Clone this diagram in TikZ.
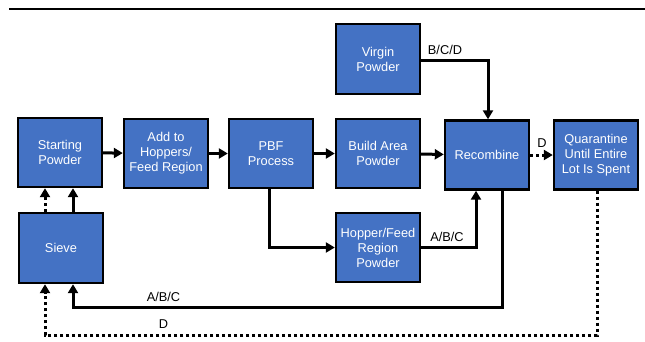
\documentclass[tikz,border=0pt]{standalone}
\usepackage{fontspec}
\setmainfont{Liberation Sans}
\usetikzlibrary{arrows.meta}
\definecolor{boxblue}{HTML}{4472C4}
\begin{document}
\begin{tikzpicture}[x=1pt,y=-1pt,
  box/.style={draw=black,line width=2.4pt,fill=boxblue,text=white,minimum width=84pt,minimum height=69pt,inner sep=1pt,align=center,font=\fontsize{12.8}{15}\selectfont},
  lbl/.style={text=black,font=\fontsize{12.8}{15}\selectfont,inner sep=0pt},
  conn/.style={line width=3pt,-{Triangle[length=9pt,width=10pt]}},
  dotconn/.style={conn,dash pattern=on 3pt off 3pt},
  plain/.style={line width=3pt}]
\useasboundingbox (0,0) rectangle (645,341);
\draw[line width=2.6pt] (9,9) -- (645,9);
\node[box] (start) at (60,152.5) {Starting\\Powder};
\node[box] (add) at (166,153.5) {Add to\\Hoppers/\\Feed Region};
\node[box] (pbf) at (271,153.5) {PBF\\Process};
\node[box] (build) at (378,153.5) {Build Area\\Powder};
\node[box] (recomb) at (487,155) {Recombine};
\node[box] (quar) at (596,155) {Quarantine\\Until Entire\\Lot Is Spent};
\node[box,minimum height=70pt] (virgin) at (378,59) {Virgin\\Powder};
\node[box] (hopper) at (378,247.5) {Hopper/Feed\\Region\\Powder};
\node[box,minimum height=70pt] (sieve) at (61,248) {Sieve};
\coordinate (c1) at (488,60);
\coordinate (c2) at (269,247.5);
\coordinate (c3) at (476,247.5);
\coordinate (c4) at (502,307);
\coordinate (c5) at (73,307);
\coordinate (c6) at (597,335);
\coordinate (c7) at (45,335);
\draw[conn] (start) -- (add);
\draw[conn] (add) -- (pbf);
\draw[conn] (pbf) -- (build);
\draw[conn] (build) -- (recomb);
\draw[dotconn] (recomb) -- (quar);
\draw[conn] (virgin.east |- c1) -| (recomb.north -| c1);
\draw[conn] (pbf.south -| c2) |- (hopper.west);
\draw[conn] (hopper.east) -| (recomb.south -| c3);
\draw[conn] (recomb.south -| c4) |- (c5) -- (sieve.south -| c5);
\draw[dotconn] (quar.south -| c6) |- (c7) -- (sieve.south -| c7);
\draw[conn] (sieve.north -| c5) -- (start.south -| c5);
\draw[dotconn] (sieve.north -| c7) -- (start.south -| c7);
\node[lbl] (l1) at (445,50) {B/C/D};
\node[lbl] (l2) at (447,237) {A/B/C};
\node[lbl] (l3) at (163.5,297) {A/B/C};
\node[lbl] (l4) at (163.5,324) {D};
\node[lbl] (l5) at (542,143) {D};
\end{tikzpicture}
\end{document}
